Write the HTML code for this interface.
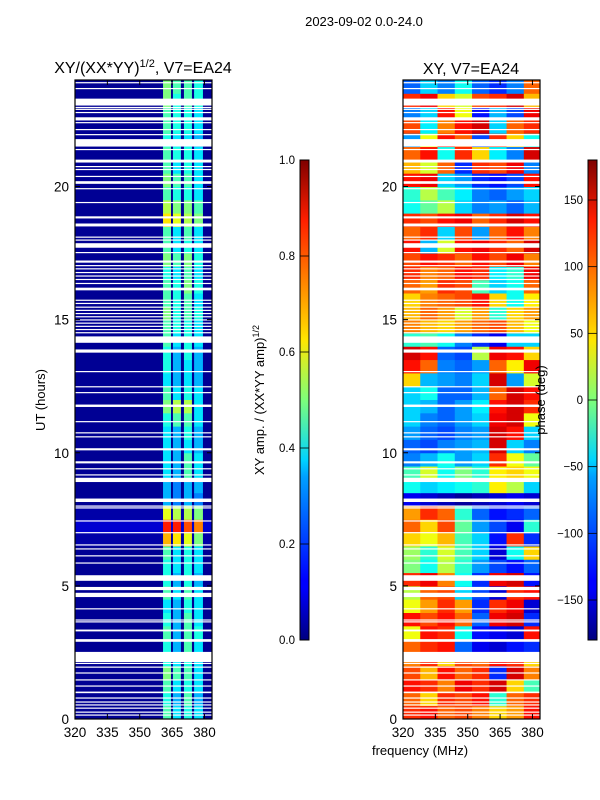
<!DOCTYPE html>
<html><head><meta charset="utf-8">
<style>
html,body{margin:0;padding:0;background:#fff;}
svg{display:block;font-family:"Liberation Sans","DejaVu Sans",sans-serif;}
</style></head>
<body>
<svg id="fig" width="600" height="800" viewBox="0 0 600 800" xmlns="http://www.w3.org/2000/svg">
<defs>
<linearGradient id="jet" x1="0" y1="1" x2="0" y2="0">
<stop offset="0" stop-color="#00007f"/><stop offset="0.11" stop-color="#0000ff"/>
<stop offset="0.125" stop-color="#0000ff"/><stop offset="0.34" stop-color="#00a0ff"/>
<stop offset="0.375" stop-color="#00d4ff"/><stop offset="0.5" stop-color="#7dff7a"/>
<stop offset="0.625" stop-color="#ffe600"/><stop offset="0.66" stop-color="#ffc800"/>
<stop offset="0.875" stop-color="#ff1e00"/><stop offset="1" stop-color="#7f0000"/>
</linearGradient>
</defs>
<text x="364" y="26" font-size="13" text-anchor="middle">2023-09-02 0.0-24.0</text>
<g id="left"></g>
<g id="right"></g>
<g id="cbars"></g>
<text x="143" y="73" font-size="16" text-anchor="middle">XY/(XX*YY)<tspan font-size="11" dy="-6">1/2</tspan><tspan dy="6">, V7=EA24</tspan></text>
<text x="471" y="74" font-size="16" text-anchor="middle">XY, V7=EA24</text>
<text transform="translate(45,400) rotate(-90)" font-size="13" text-anchor="middle">UT (hours)</text>
<text x="420" y="755" font-size="13" text-anchor="middle">frequency (MHz)</text>
<text transform="translate(264,400) rotate(-90)" font-size="13" text-anchor="middle">XY amp. / (XX*YY amp)<tspan font-size="9" dy="-5">1/2</tspan></text>
<text transform="translate(545,400) rotate(-90)" font-size="13" text-anchor="middle">phase (deg)</text>
</svg>
<script>
// ---- data ----
const hoursRange = [0, 24];
const freqRange = [320, 383.5];
const yTicks = [0, 5, 10, 15, 20];
const xTicks = [320, 335, 350, 365, 380];
const ampTicks = [0.0, 0.2, 0.4, 0.6, 0.8, 1.0];
const phaseTicks = [-150, -100, -50, 0, 50, 100, 150];
// amplitude: frequency strips [lo, hi] MHz
const ampStrips = [[360.8, 364.5], [365.4, 369.1], [370.5, 374.2], [375.2, 379.3]];
// amplitude outside the strips, per half hour (0h upward)
const ampLow = [0.02,0.02,0.02,0.02,0.02,0.02,0.02,0.02,0.02,0.02,0.02,0.02,0.02,0.04,0.08,0.04,
 0.02,0.02,0.02,0.02,0.02,0.02,0.02,0.02,0.02,0.02,0.02,0.02,0.02,0.02,0.02,0.02,
 0.02,0.02,0.02,0.02,0.02,0.02,0.02,0.02,0.02,0.02,0.02,0.02,0.02,0.02,0.02,0.02];
// amplitude in the four bright strips, per half hour
const ampBand = [
[0.45,0.35,0.4,0.35],[0.4,0.3,0.45,0.3],[0.45,0.35,0.4,0.35],[0.5,0.45,0.45,0.35],
[0.4,0.35,0.4,0.35],[0.4,0.3,0.45,0.35],[0.45,0.3,0.45,0.4],[0.4,0.3,0.45,0.35],
[0.35,0.3,0.4,0.35],[0.45,0.35,0.45,0.35],[0.4,0.3,0.4,0.3],[0.4,0.35,0.4,0.35],
[0.45,0.35,0.4,0.35],[0.7,0.65,0.6,0.5],[0.85,0.85,0.8,0.75],[0.6,0.55,0.55,0.5],
[0.3,0.25,0.3,0.25],[0.3,0.25,0.3,0.3],[0.35,0.3,0.45,0.35],[0.35,0.3,0.45,0.35],
[0.35,0.3,0.35,0.3],[0.35,0.3,0.4,0.3],[0.4,0.45,0.45,0.35],[0.5,0.55,0.55,0.35],
[0.45,0.35,0.4,0.35],[0.35,0.3,0.35,0.3],[0.4,0.3,0.35,0.3],[0.4,0.3,0.4,0.3],
[0.45,0.35,0.4,0.35],[0.45,0.4,0.4,0.35],[0.5,0.4,0.45,0.4],[0.45,0.4,0.45,0.35],
[0.45,0.4,0.5,0.4],[0.4,0.35,0.45,0.35],[0.5,0.45,0.5,0.4],[0.45,0.35,0.4,0.35],
[0.45,0.35,0.45,0.35],[0.65,0.6,0.55,0.5],[0.55,0.5,0.5,0.45],[0.45,0.4,0.4,0.35],
[0.5,0.45,0.45,0.35],[0.45,0.35,0.4,0.35],[0.45,0.4,0.4,0.35],[0.4,0.35,0.35,0.3],
[0.45,0.4,0.4,0.35],[0.45,0.4,0.4,0.35],[0.5,0.4,0.45,0.4],[0.5,0.45,0.45,0.4]];
// phase (deg): 8 frequency columns of 8 MHz, per half hour
const phaseCols = [320, 328, 336, 344, 352, 360, 368, 376, 384];
const phase = [
[120,130,100,110,90,60,80,130],[100,60,120,110,130,-30,100,120],[130,120,90,140,120,150,60,-20],[110,70,130,100,120,-120,150,90],
[90,120,60,110,100,130,120,60],[100,120,130,-100,-140,-150,-130,-120],[40,130,120,-40,-130,-140,-150,130],[130,110,130,100,-100,140,150,-120],
[40,80,120,80,-120,120,140,-150],[20,100,110,-60,-110,-150,120,130],[120,140,90,-40,-120,140,150,-130],[0,-40,20,-30,-80,-110,-130,-100],
[10,-30,30,-20,-60,-150,-40,60],[60,40,70,-20,-60,-130,120,-120],[100,60,110,-10,-80,-110,-140,-30],[80,120,100,-30,-100,-130,-120,-100],
[-140,-150,-160,-170,-160,-150,-140,-150],[-40,-60,-50,-40,-30,50,20,-60],[-20,30,-40,0,-30,50,60,40],[-90,-70,-40,-80,-60,120,40,-10],
[-100,-110,-90,-80,-70,150,-60,-90],[-80,-100,-110,-90,-80,150,130,-60],[-60,-90,-100,-80,-60,140,150,40],[-60,-70,-100,-80,-50,130,150,120],
[-60,-40,-100,-100,-70,100,150,130],[60,-70,-80,-90,-60,150,-80,30],[130,100,-90,-100,-80,100,50,140],[150,130,-100,-110,20,140,130,60],
[-30,-20,-40,-90,-120,-140,-60,-60],[90,70,60,80,100,110,70,40],[70,100,80,30,80,-30,60,80],[60,90,100,110,130,60,-40,50],
[100,80,120,110,-20,-60,-40,100],[120,90,100,130,120,-50,-30,140],[110,130,120,100,130,110,140,90],[130,-70,30,130,140,120,100,150],
[100,120,-60,110,-80,100,130,90],[120,110,130,140,100,120,150,130],[-40,-10,20,-60,-90,-80,-100,-70],[-30,20,-20,-50,-90,-100,-80,-60],
[130,140,-60,-80,-120,-130,-110,130],[70,30,100,-120,120,110,140,-90],[100,130,-40,120,60,-50,-90,150],[-80,40,130,100,-110,120,60,-40],
[110,-50,90,130,150,-60,100,120],[-90,-60,130,40,-130,-70,-110,140],[120,140,60,30,110,120,150,70],[-100,-60,-90,-40,-100,-120,-90,100]];
// flagged (blank) time intervals [start, end] in hours
const gaps = [[0.14,0.17],[0.25,0.28],[0.4,0.43],[0.52,0.55],[0.63,0.66],[0.78,0.81],[0.97,1.03],[1.23,1.26],[1.46,1.49],[1.72,1.75],
[1.94,1.97],[2.08,2.11],[2.14,2.52],[2.9,3.0],[3.29,3.36],[3.64,3.67],[3.71,3.74],[4.13,4.16],[4.58,4.74],[4.84,4.96],
[5.19,5.4],[5.85,5.88],[6.12,6.15],[6.38,6.41],[6.53,6.56],[6.99,7.02],[7.43,7.46],[7.92,7.95],[7.99,8.02],[8.15,8.28],
[8.9,9.06],[9.16,9.19],[9.39,9.42],[9.6,9.68],[10.09,10.17],[10.59,10.62],[10.74,10.77],[11.16,11.19],[11.72,11.81],[12.25,12.28],
[12.47,12.5],[13.04,13.07],[13.76,13.88],[14.13,14.37],[14.5,14.53],[14.62,14.65],[14.74,14.77],[14.86,14.89],[14.98,15.01],[15.1,15.13],
[15.22,15.25],[15.34,15.37],[15.46,15.49],[15.6,15.63],[15.72,15.75],[16.1,16.2],[16.35,16.38],[16.5,16.53],[16.63,16.66],[16.76,16.79],
[16.9,16.93],[17.02,17.05],[17.14,17.22],[17.51,17.54],[17.7,17.87],[17.98,18.01],[18.09,18.12],[18.5,18.61],[18.8,18.88],[19.39,19.42],
[19.91,19.94],[20.1,20.2],[20.37,20.4],[20.63,20.66],[20.74,20.77],[20.9,21.01],[21.38,21.41],[21.5,21.78],[21.94,21.97],[22.13,22.16],
[22.39,22.42],[22.48,22.6],[22.77,22.8],[22.89,22.92],[22.96,22.99],[23.04,23.3],[23.67,23.7],[23.89,23.92]];

// ---- rendering ----
const NS = "http://www.w3.org/2000/svg";
const Y0 = 719, Y1 = 80;
function yScale(h){ return Y0 - (h - hoursRange[0]) / (hoursRange[1]-hoursRange[0]) * (Y0 - Y1); }
function xScaleF(x0, x1){ return f => x0 + (f - freqRange[0]) / (freqRange[1]-freqRange[0]) * (x1 - x0); }
function jet(v){
  v = Math.max(0, Math.min(1, v));
  const r = Math.max(0, Math.min(1, 1.5 - Math.abs(4*v - 3)));
  const g = Math.max(0, Math.min(1, 1.5 - Math.abs(4*v - 2)));
  const b = Math.max(0, Math.min(1, 1.5 - Math.abs(4*v - 1)));
  return `rgb(${Math.round(r*255)},${Math.round(g*255)},${Math.round(b*255)})`;
}
function mk(tag, attrs, parent){
  const e = document.createElementNS(NS, tag);
  for (const k in attrs) e.setAttribute(k, attrs[k]);
  parent.appendChild(e); return e;
}

function axesFrame(g, x0, x1){
  const xs = xScaleF(x0, x1);
  gaps.forEach(gp => {
    const r = mk('rect', {x:x0, y:yScale(gp[1]), width:x1-x0, height:Math.max(1.2, yScale(gp[0])-yScale(gp[1])), fill:'#fff'}, g);
    
    
  });
  const fr = mk('rect', {x:x0, y:Y1, width:x1-x0, height:Y0-Y1, fill:'none', stroke:'#000', 'stroke-width':1.2}, g);
  
  
  yTicks.forEach(t => {
    const y = yScale(t);
    mk('line', {x1:x0, x2:x0+5, y1:y, y2:y, stroke:'#000'}, g);
    mk('line', {x1:x1, x2:x1-5, y1:y, y2:y, stroke:'#000'}, g);
    const tx = mk('text', {x:x0-6, y:y+5, 'font-size':13.5, 'text-anchor':'end'}, g);
    tx.textContent = t;
    
    
  });
  xTicks.forEach(t => {
    const x = xs(t);
    mk('line', {x1:x, x2:x, y1:Y0, y2:Y0-5, stroke:'#000'}, g);
    mk('line', {x1:x, x2:x, y1:Y1, y2:Y1+5, stroke:'#000'}, g);
    const tx = mk('text', {x:x, y:Y0+18, 'font-size':13.5, 'text-anchor':'middle'}, g);
    tx.textContent = t;
    
    
  });
}

// amplitude panel
(function(){
  const g = document.getElementById('left');
  const x0 = 75, x1 = 212, xs = xScaleF(x0, x1);
  ampLow.forEach((v, i) => {
    const r = mk('rect', {x:x0, y:yScale((i+1)/2), width:x1-x0, height:yScale(i/2)-yScale((i+1)/2)+0.5, fill:jet(v)}, g);
    
    
  });
  ampBand.forEach((row, i) => {
    row.forEach((v, j) => {
      const s = ampStrips[j];
      const r = mk('rect', {x:xs(s[0]), y:yScale((i+1)/2), width:xs(s[1])-xs(s[0]), height:yScale(i/2)-yScale((i+1)/2)+0.5, fill:jet(v)}, g);
      
      
    });
  });
  axesFrame(g, x0, x1);
})();

// phase panel
(function(){
  const g = document.getElementById('right');
  const x0 = 403, x1 = 540, xs = xScaleF(x0, x1);
  phase.forEach((row, i) => {
    row.forEach((v, j) => {
      const xa = xs(phaseCols[j]), xb = Math.min(x1, xs(phaseCols[j+1]));
      const r = mk('rect', {x:xa, y:yScale((i+1)/2), width:xb-xa+0.5, height:yScale(i/2)-yScale((i+1)/2)+0.5, fill:jet((v+180)/360)}, g);
      
      
    });
  });
  axesFrame(g, x0, x1);
})();

// colorbars
(function(){
  const g = document.getElementById('cbars');
  const CT = 160, CB = 640;
  function bar(x, ticks, lo, hi, name){
    const r = mk('rect', {x:x, y:CT, width:9, height:CB-CT, fill:'url(#jet)', stroke:'#000', 'stroke-width':1}, g);
    
    
    ticks.forEach(t => {
      const y = CB - (t-lo)/(hi-lo)*(CB-CT);
      mk('line', {x1:x, x2:x+9, y1:y, y2:y, stroke:'#000', 'stroke-width':0.8}, g);
      const tx = mk('text', {x:x-5, y:y+4, 'font-size':11.5, 'text-anchor':'end'}, g);
      tx.textContent = (lo === 0) ? t.toFixed(1) : String(t).replace('-', '\u2212');
      
      
    });
  }
  bar(300, ampTicks, 0, 1, 'amplitude-colorbar');
  bar(588, phaseTicks, -180, 180, 'phase-colorbar');
})();
</script>
</body></html>
